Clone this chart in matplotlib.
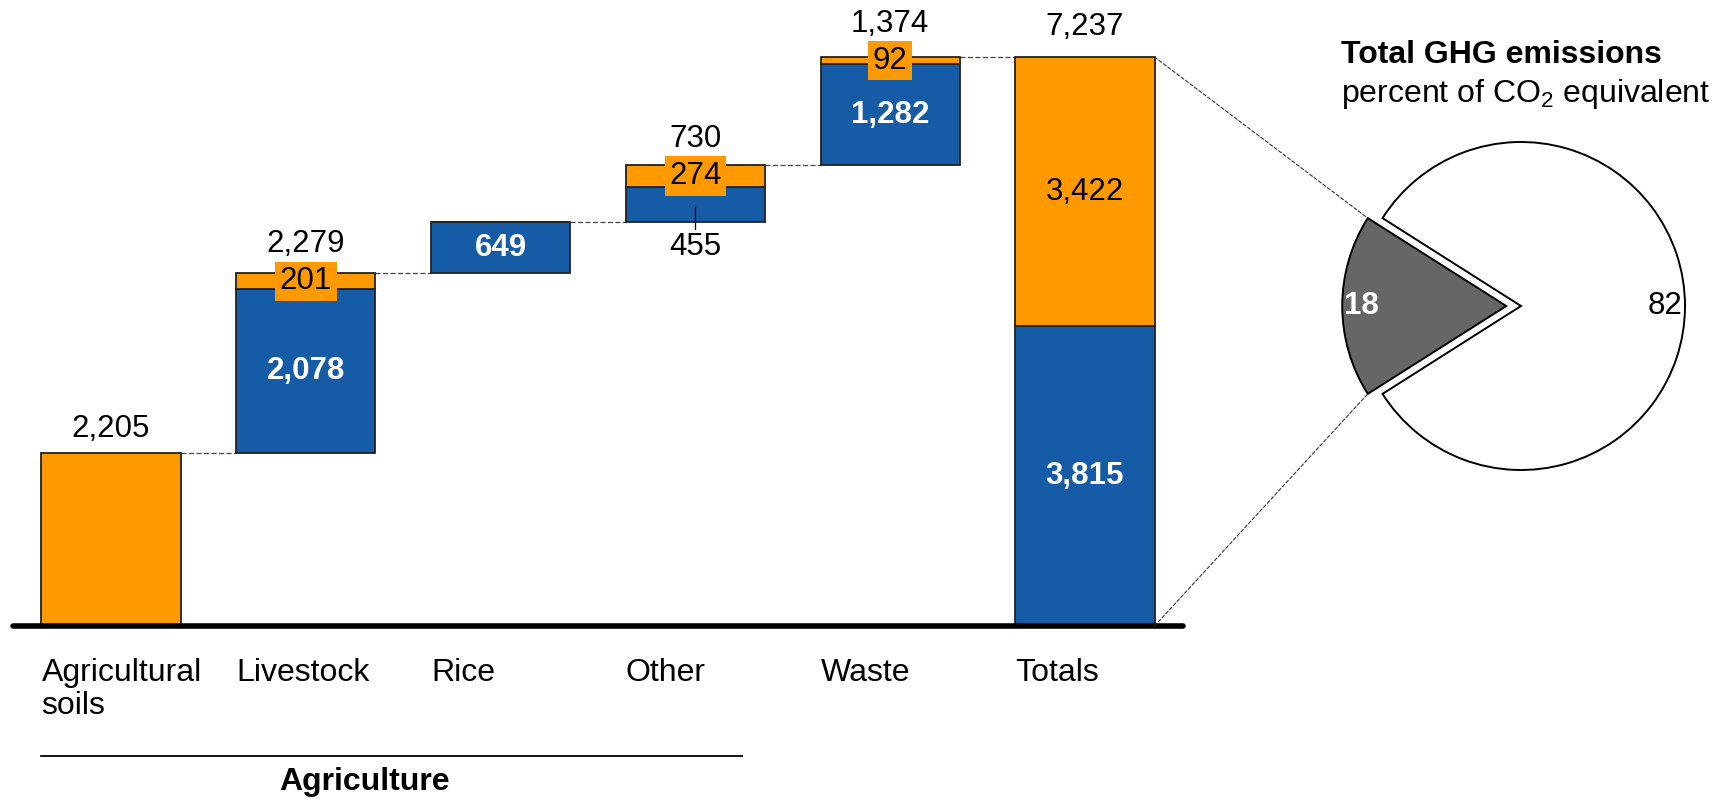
import matplotlib
matplotlib.use("Agg")
import matplotlib.pyplot as plt
from matplotlib.patches import ConnectionPatch
import numpy as np

plt.rcParams["font.family"] = ["Liberation Sans", "DejaVu Sans"]
plt.rcParams["mathtext.fontset"] = "custom"
plt.rcParams["mathtext.rm"] = "Liberation Sans"
plt.rcParams["mathtext.it"] = "Liberation Sans:italic"
plt.rcParams["mathtext.bf"] = "Liberation Sans:bold"

# GHG waterfall, thousand tonnes CO2 eq
CATEGORIES = ["Agricultural\nsoils", "Livestock", "Rice", "Other", "Waste", "Totals"]
BLUE_VALS = [0, 2078, 649, 455, 1282, 3815]
ORANGE_VALS = [2205, 201, 0, 274, 92, 3422]
TOP_LABELS = ["2,205", "2,279", None, "730", "1,374", "7,237"]
BLUE_LABELS = [None, "2,078", "649", "455", "1,282", "3,815"]
ORANGE_LABELS = [None, "201", None, "274", "92", "3,422"]
GROUP_LABEL = "Agriculture"

PIE_VALS = [18, 82]

ORANGE = "#FF9900"
BLUE = "#165BA6"
GREY = "#666666"
EDGE = "#222222"
W = 0.714

fig = plt.figure(figsize=(17.28, 8.1), dpi=100)
ax = fig.add_axes([0, 0, 1, 1])
ax.set_xlim(-0.5698, 8.3008)
ax.set_ylim(-2340, 7962)
ax.axis("off")

x = np.arange(len(CATEGORIES))
blue = np.array(BLUE_VALS, dtype=float)
orange = np.array(ORANGE_VALS, dtype=float)
# floating bases: each step starts where the previous one ended, totals start at 0
bases = np.concatenate([[0], np.cumsum(blue + orange)[:-2], [0]])
tops = bases + blue + orange

ax.bar(x, blue, W, bottom=bases, color=BLUE, edgecolor=EDGE, lw=1.3, zorder=2)
ax.bar(x, orange, W, bottom=bases + blue, color=ORANGE, edgecolor=EDGE, lw=1.3,
       zorder=2)

# step connectors
for i in range(len(x) - 1):
    ax.plot([x[i] + W / 2, x[i + 1] - W / 2], [tops[i], tops[i]],
            color="#444444", lw=0.9, ls=(0, (4, 2)), zorder=1)

ax.plot([x[0] - W / 2 - 0.146, x[-1] + W / 2 + 0.146], [0, 0], color="black",
        lw=4, solid_capstyle="round", zorder=3)

FS = 22.5
top_pad = [16, None, None, None, None, 22]
for i in range(len(x)):
    oc = bases[i] + blue[i] + orange[i] / 2
    boxed = ORANGE_LABELS[i] is not None and i != len(x) - 1
    if ORANGE_LABELS[i]:
        if boxed:
            ax.annotate(ORANGE_LABELS[i], (x[i], oc), ha="center", va="center",
                        fontsize=FS, zorder=5,
                        bbox=dict(boxstyle="square,pad=0.15", fc=ORANGE, ec="none"))
        else:
            ax.text(x[i], oc, ORANGE_LABELS[i], ha="center", va="center",
                    fontsize=FS, zorder=5)
    if TOP_LABELS[i]:
        if boxed:
            ax.annotate(TOP_LABELS[i], (x[i], oc), xytext=(0, 29),
                        textcoords="offset pixels", ha="center", va="baseline",
                        fontsize=FS)
        else:
            ax.annotate(TOP_LABELS[i], (x[i], tops[i]), xytext=(0, top_pad[i]),
                        textcoords="offset pixels", ha="center", va="baseline",
                        fontsize=FS)
    if BLUE_LABELS[i]:
        bc = bases[i] + blue[i] / 2
        if CATEGORIES[i] == "Other":
            # small segment: label hangs below the bar on a leader
            ax.plot([x[i], x[i]], [bc - 30, bases[i] - 80], color="black", lw=0.9,
                    zorder=4)
            ax.annotate(BLUE_LABELS[i], (x[i], bases[i]), xytext=(0, -10),
                        textcoords="offset pixels", ha="center", va="top",
                        fontsize=FS)
        else:
            ax.text(x[i], bc, BLUE_LABELS[i], ha="center", va="center",
                    fontsize=FS, color="white", fontweight="bold", zorder=5)

for i, lab in enumerate(CATEGORIES):
    ax.annotate(lab, (x[i] - W / 2, 0), xytext=(0, -32), textcoords="offset pixels",
                ha="left", va="top", fontsize=23, linespacing=1.13)

# bracket under the agriculture sub-sectors
bracket_y = -130 / 0.07862
ax.plot([x[0] - W / 2, x[3] + 0.24], [bracket_y, bracket_y],
        color="black", lw=1.3, clip_on=False)
ax.annotate(GROUP_LABEL, (1.30, 0), xytext=(0, -164), textcoords="offset pixels",
            ha="center", va="baseline", fontsize=23, fontweight="bold")

# share of agriculture in total emissions
pax = fig.add_axes([1321 / 1728, 304 / 810, 400 / 1728, 400 / 810])
wedges, _, autotexts = pax.pie(
    PIE_VALS, explode=[0.09, 0], startangle=147.6, counterclock=True,
    colors=[GREY, "white"], autopct="%.0f", pctdistance=0.88,
    wedgeprops=dict(edgecolor="black", lw=1.4))
pax.set_xlim(-1.2195, 1.2195)
pax.set_ylim(-1.2195, 1.2195)
autotexts[0].set(color="white", fontweight="bold", fontsize=FS)
autotexts[1].set(color="black", fontsize=FS)

dark = wedges[0]
cx, cy = dark.center
for theta, yv in [(dark.theta1, tops[-1]), (dark.theta2, 0)]:
    corner = (cx + dark.r * np.cos(np.radians(theta)),
              cy + dark.r * np.sin(np.radians(theta)))
    con = ConnectionPatch(xyA=(x[-1] + W / 2, yv), coordsA=ax.transData,
                          xyB=corner, coordsB=pax.transData,
                          color="#333333", lw=0.8, ls=(0, (3, 2)))
    fig.add_artist(con)

fig.text(1341 / 1728, 1 - 63 / 810, "Total GHG emissions", fontsize=23,
         fontweight="bold", ha="left", va="baseline")
fig.text(1341 / 1728, 1 - 102 / 810, "percent of CO$_2$ equivalent", fontsize=23,
         ha="left", va="baseline")

fig.savefig("out.png", dpi=100)
